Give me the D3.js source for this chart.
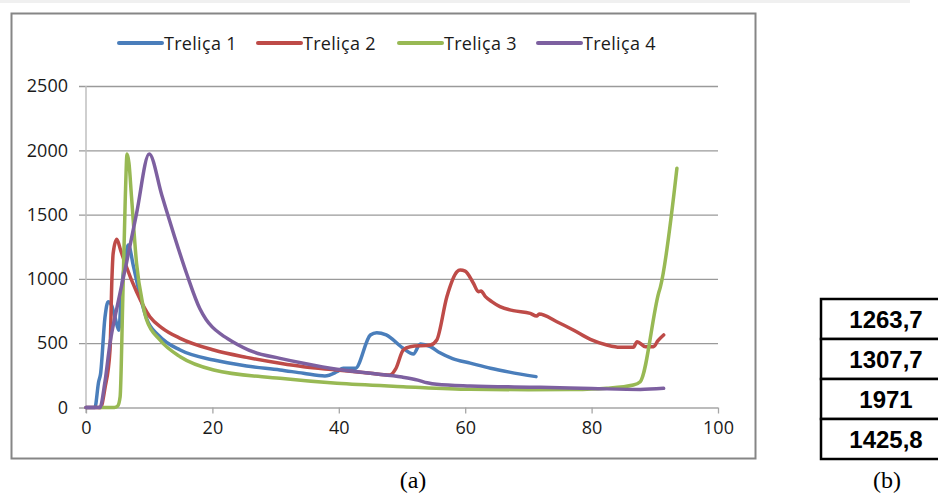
<!DOCTYPE html>
<html>
<head>
<meta charset="utf-8">
<script src="https://cdn.jsdelivr.net/npm/d3@7"></script>
<style>
  body { margin: 0; background: #fff; }
  svg { display: block; }
</style>
</head>
<body>
<svg width="938" height="494"></svg>
<script>
// Series: [x, y]
var trelica1 = [[0,0],[1.4,0],[2.0,200],[2.3,260],[3.0,700],[3.5,823],[4.0,800],[4.6,700],[5.2,600],[5.6,900],[6.2,1150],[6.7,1263.7],[7.5,1100],[8.5,880],[9.6,690],[11.5,560],[14.9,447],[20.2,369],[25.4,323],[30.7,292],[34.4,266],[37.8,245],[39.7,278],[40.7,305],[42.6,305],[45,564],[46,582],[47.5,564],[50.2,460],[51.8,416],[52.9,494],[54.5,473],[56,425],[58,380],[60.8,345],[64,305],[67,275],[71.2,240]];
var trelica2 = [[0,0],[2.3,0],[3.0,150],[3.8,447],[4.1,1000],[4.3,1200],[4.86,1307.7],[5.5,1220],[6.2,1120],[8,900],[10.1,706],[12,620],[14.9,538],[20.2,447],[25.4,390],[30.7,344],[34.4,317],[39.7,292],[45,266],[48.1,253],[49,300],[50.2,447],[51.3,473],[54.5,486],[55.5,525],[57.1,862],[58.7,1056],[59.2,1069],[60,1060],[61.3,966],[62.1,900],[62.5,905],[63.2,862],[64.2,823],[65.5,784],[67.6,753],[70.3,732],[71.3,711],[71.7,727],[74.5,667],[77.1,603],[79.8,530],[82.4,486],[84.5,468],[86.6,468],[87.2,512],[88.5,473],[89.8,473],[90.5,520],[91.4,564]];
var trelica3 = [[2,0],[4.5,0],[5.0,10],[5.4,84],[5.8,800],[6.2,1600],[6.5,1971],[6.8,1900],[7.2,1640],[8.0,1121],[9.0,800],[9.6,680],[11.7,525],[14.9,395],[20.2,292],[30.7,227],[39.7,188],[50.2,162],[60.8,141],[70,138],[77.1,140],[82.4,150],[86.6,175],[87.7,201],[90.6,888],[90.9,940],[93.5,1860]];
var trelica4 = [[0,0],[2.2,0],[3.0,200],[3.8,500],[5,800],[6.4,1123],[8.0,1510],[10.0,1971],[12,1650],[14,1330],[16,1030],[18,770],[19,685],[20,625],[21.5,565],[23,518],[26.5,432],[30.7,382],[34.4,344],[39.7,297],[45,266],[50,237],[52.5,213],[54,192],[55.5,180],[60.8,167],[71.9,157],[80,148],[87.7,140],[91.4,149]];

var seriesNames = ["Treliça 1", "Treliça 2", "Treliça 3", "Treliça 4"];
var seriesColors = ["#4a7ebb", "#be4b48", "#98b954", "#7d60a0"];
var seriesData = [trelica1, trelica2, trelica3, trelica4];

var xTicks = [0, 20, 40, 60, 80, 100];
var yTicks = [0, 500, 1000, 1500, 2000, 2500];
var tableValues = ["1263,7", "1307,7", "1971", "1425,8"];

var svg = d3.select("svg");
var font = "'Open Sans', 'DejaVu Sans', sans-serif";

var xScale = d3.scaleLinear().domain([0, 100]).range([86, 718]);
var yScale = d3.scaleLinear().domain([0, 2500]).range([407.5, 86]);

// faint strip at top
svg.append("rect").attr("x", 0).attr("y", 0).attr("width", 910).attr("height", 3).attr("fill", "#f0f0f0");

// Chart frame
svg.append("rect")
    .attr("x", 11.5).attr("y", 13.5)
    .attr("width", 744).attr("height", 445)
    .attr("fill", "white")
    .attr("stroke", "#868686")
    .attr("stroke-width", 2);

// Gridlines
var yAxis = d3.axisLeft(yScale)
    .tickValues(yTicks)
    .tickSize(-(718 - 79))
    .tickPadding(11)
    .tickFormat(d3.format("d"));

var yG = svg.append("g").attr("transform", "translate(79,0)").call(yAxis);
yG.select(".domain").remove();
yG.selectAll(".tick line")
    .attr("x1", 0)
    .attr("x2", 718 - 79)
    .attr("stroke", d => d === 0 ? "#a6a6a6" : "#9a9a9a")
    .attr("stroke-width", 1.3);
yG.selectAll(".tick text")
    .attr("x", -11)
    .style("font-family", font)
    .style("font-size", "18px")
    .style("fill", "#1a1a1a");

// Y axis line
svg.append("line")
    .attr("x1", 86).attr("x2", 86)
    .attr("y1", 86).attr("y2", 413)
    .attr("stroke", "#bfbfbf")
    .attr("stroke-width", 1.5);

var xAxis = d3.axisBottom(xScale)
    .tickValues(xTicks)
    .tickSize(6)
    .tickPadding(8);

var xG = svg.append("g").attr("transform", "translate(0,407.5)").call(xAxis);
xG.select(".domain").remove();
xG.selectAll(".tick line").attr("stroke", "#a6a6a6").attr("stroke-width", 1.3);
xG.selectAll(".tick text")
    .style("font-family", font)
    .style("font-size", "18px")
    .style("fill", "#1a1a1a");

// Series lines
var line = d3.line()
    .x(d => xScale(d[0]))
    .y(d => yScale(d[1]))
    .curve(d3.curveMonotoneX);

svg.append("g")
    .selectAll("path")
    .data(seriesData)
    .enter()
    .append("path")
    .attr("d", line)
    .attr("fill", "none")
    .attr("stroke", (d, i) => seriesColors[i])
    .attr("stroke-width", 3.5)
    .attr("stroke-linejoin", "round")
    .attr("stroke-linecap", "round");

// Legend
var legendX = [119, 258, 399, 538];
var legend = svg.append("g");
seriesNames.forEach(function (name, i) {
    legend.append("line")
        .attr("x1", legendX[i]).attr("x2", legendX[i] + 43)
        .attr("y1", 43).attr("y2", 43)
        .attr("stroke", seriesColors[i])
        .attr("stroke-width", 4)
        .attr("stroke-linecap", "round");
    legend.append("text")
        .attr("x", legendX[i] + 45)
        .attr("y", 50)
        .style("font-family", font)
        .style("font-size", "18px")
        .style("letter-spacing", "0.3px")
        .style("fill", "#1a1a1a")
        .text(name);
});

// Table (b)
var rowY = [299, 339, 379, 419, 459];
var table = svg.append("g");
tableValues.forEach(function (v, i) {
    table.append("rect")
        .attr("x", 821).attr("y", rowY[i])
        .attr("width", 140).attr("height", rowY[i + 1] - rowY[i])
        .attr("fill", "white")
        .attr("stroke", "black")
        .attr("stroke-width", 2.5);
    table.append("text")
        .attr("x", 886)
        .attr("y", rowY[i] + 29)
        .attr("text-anchor", "middle")
        .style("font-family", "'Liberation Sans', Arial, sans-serif")
        .style("font-weight", "bold")
        .style("font-size", "24px")
        .style("fill", "black")
        .text(v);
});

// Captions
svg.append("text")
    .attr("x", 413).attr("y", 488)
    .attr("text-anchor", "middle")
    .style("font-family", "'Liberation Serif', 'Times New Roman', serif")
    .style("font-size", "24px")
    .text("(a)");
svg.append("text")
    .attr("x", 887).attr("y", 488)
    .attr("text-anchor", "middle")
    .style("font-family", "'Liberation Serif', 'Times New Roman', serif")
    .style("font-size", "24px")
    .text("(b)");
</script>
</body>
</html>
